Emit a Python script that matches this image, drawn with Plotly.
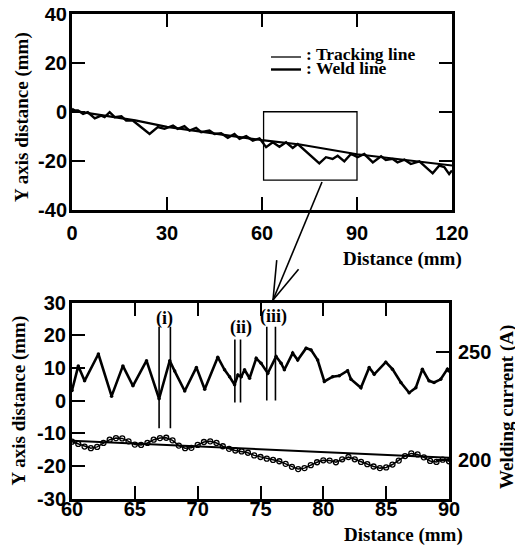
import math
import plotly.graph_objects as go

W, H = 523, 549
PAGE_OFFSET = 8  # default body margin of the html page

# ---------------- data: top plot (0-120 mm) ----------------
top_track_x = [0, 0.9, 1.9, 3.5, 5.0, 7.2, 9.2, 10.3, 11.9, 13.5, 15.6, 17.1, 19.2, 24.5, 27.1,
               29.2, 31.9, 33.4, 35.5, 37.1, 39.2, 40.8, 43.4, 45.0, 47.1, 49.2, 51.3, 52.9,
               55.0, 57.1, 59.2, 61.3, 63.4, 65.5, 67.6, 69.7, 71.3, 78.1, 80.2, 82.3, 83.9,
               86.0, 88.1, 90.2, 92.3, 95.0, 97.6, 99.1, 101.3, 102.8, 105.0, 107.0, 109.7,
               111.8, 113.9, 116.0, 117.6, 119.1, 120]
top_track_y = [1.2, 0.5, 0.5, -0.9, -0.2, -2.7, -1.6, -2.2, -0.2, -2.2, -1.8, -3.6, -3.6, -9.1,
               -6.3, -7.0, -5.7, -7.0, -5.9, -7.7, -6.6, -8.4, -7.7, -9.1, -8.8, -10.7, -9.1,
               -11.1, -10.0, -11.8, -10.9, -14.5, -12.5, -14.3, -12.5, -14.8, -13.2, -21.1,
               -18.6, -19.3, -18.0, -20.3, -17.3, -18.6, -17.3, -20.7, -18.2, -19.7, -19.3,
               -20.7, -19.6, -21.4, -20.3, -22.7, -25.2, -22.0, -22.7, -25.5, -24.0]
top_weld_x = [0, 20, 30, 60, 72, 90, 120]
top_weld_y = [0.5, -3.5, -6.2, -11.6, -13.4, -17.4, -22.0]

# zoom window drawn on the top plot
zoom_x = [60.5, 90]
zoom_y = [-28, 0]

# ---------------- data: bottom plot (60-90 mm) ----------------
bot_weld_x = [60, 86.5, 90]
bot_weld_y = [-12.3, -16.9, -17.5]

bot_track_x = [60.0, 60.5, 61.0, 61.5, 62.0, 62.5, 63.0, 63.5, 64.0, 64.5, 65.0, 65.5, 66.0,
               66.5, 67.0, 67.5, 68.0, 68.5, 69.0, 69.5, 70.0, 70.5, 71.0, 71.5, 72.0, 72.5,
               73.0, 73.5, 74.0, 74.5, 75.0, 75.5, 76.0, 76.5, 77.0, 77.5, 78.0, 78.5, 79.0,
               79.5, 80.0, 80.5, 81.0, 81.5, 82.0, 82.5, 83.0, 83.5, 84.0, 84.5, 85.0, 85.5,
               86.0, 86.5, 87.0, 87.5, 88.0, 88.5, 89.0, 89.5, 90.0]
bot_track_y = [-12.6, -13.3, -14.1, -14.6, -14.2, -13.0, -12.0, -11.5, -11.6, -12.5, -13.5,
               -13.6, -13.0, -12.0, -11.5, -11.4, -12.2, -13.8, -14.6, -14.5, -13.6, -12.7,
               -12.5, -13.0, -14.0, -14.8, -15.3, -15.6, -16.0, -16.8, -17.3, -17.8, -18.2,
               -18.6, -19.4, -20.3, -21.0, -20.7, -19.8, -18.9, -18.3, -18.4, -18.9, -18.0,
               -17.3, -18.0, -18.8, -19.5, -20.2, -20.7, -20.5, -19.6, -18.4, -17.0, -16.2,
               -16.5, -17.4, -18.5, -18.8, -18.1, -18.6]

current_x = [60.0, 60.5, 61.0, 62.1, 63.15, 64.05, 64.85, 65.93, 66.93, 67.78, 68.17, 68.97,
             69.9, 70.56, 71.6, 72.14, 72.54, 72.94, 73.2, 73.47, 73.73, 74.13, 74.66, 75.05,
             75.58, 76.24, 76.64, 76.9, 77.56, 77.96, 78.63, 79.02, 79.55, 80.08, 80.74,
             81.27, 81.93, 82.2, 82.99, 83.65, 84.05, 84.97, 85.5, 86.17, 86.83, 87.36,
             87.88, 88.41, 88.81, 89.34, 89.87, 90.0]
current_a = [232.0, 243.4, 236.5, 248.9, 229.4, 243.4, 234.2, 245.8, 228.2, 245.8, 241.0,
             231.8, 242.7, 232.6, 247.4, 241.6, 238.4, 234.7, 239.2, 238.4, 241.6, 237.7,
             246.9, 244.6, 240.0, 247.7, 244.6, 241.6, 249.3, 246.1, 251.6, 250.8, 246.1,
             236.2, 238.4, 238.8, 241.2, 237.2, 233.3, 242.7, 239.5, 245.1, 241.9, 235.7,
             231.0, 233.3, 241.9, 236.5, 235.7, 237.2, 241.9, 241.0]

# event markers (i), (ii), (iii): pairs of vertical lines
event_labels = ["(i)", "(ii)", "(iii)"]
event_x = [[66.93, 67.83], [72.96, 73.41], [75.5, 76.19]]
event_top = [22.6, 18.7, 22.6]
event_bottom = [-8.5, -0.6, 0.0]
event_label_x = [67.35, 73.45, 76.0]
event_label_y = [25.0, 22.2, 25.6]

top_xticks = [0, 30, 60, 90, 120]
top_yticks = [-40, -20, 0, 20, 40]
bot_xticks = [60, 65, 70, 75, 80, 85, 90]
bot_yticks = [-30, -20, -10, 0, 10, 20, 30]
cur_ticks = [200, 250]


def tick_text(vals):
    return ["<b>%s</b>" % v for v in vals]


SANS = "Liberation Sans, Arial, sans-serif"
SERIF = "Liberation Serif, Times New Roman, serif"
tickfont = dict(family=SANS, size=20, color="black", weight="bold")
titlefont = dict(family=SERIF, size=19, color="black", weight="bold")

fig = go.Figure()

# top plot
fig.add_trace(go.Scatter(x=top_weld_x, y=top_weld_y, mode="lines", name="Weld line",
                         line=dict(color="black", width=2.2), xaxis="x", yaxis="y",
                         showlegend=False))
fig.add_trace(go.Scatter(x=top_track_x, y=top_track_y, mode="lines", name="Tracking line",
                         line=dict(color="black", width=2.4), xaxis="x", yaxis="y",
                         showlegend=False))

# bottom plot
fig.add_trace(go.Scatter(x=bot_weld_x, y=bot_weld_y, mode="lines", name="Weld line",
                         line=dict(color="black", width=2), xaxis="x2", yaxis="y2",
                         showlegend=False))
fig.add_trace(go.Scatter(x=bot_track_x, y=bot_track_y, mode="lines+markers",
                         name="Tracking line", xaxis="x2", yaxis="y2",
                         line=dict(color="black", width=1.5),
                         marker=dict(symbol="circle-open", size=5, color="black",
                                     line=dict(width=1.3)),
                         showlegend=False))
fig.add_trace(go.Scatter(x=current_x, y=current_a, mode="lines+markers",
                         name="Welding current", xaxis="x2", yaxis="y3",
                         line=dict(color="black", width=2.6),
                         marker=dict(size=3.5, color="black"),
                         showlegend=False))

ev_x, ev_y = [], []
for xs, t, b in zip(event_x, event_top, event_bottom):
    for xv in xs:
        ev_x += [xv, xv, None]
        ev_y += [t, b, None]
fig.add_trace(go.Scatter(x=ev_x, y=ev_y, mode="lines", line=dict(color="black", width=1.6),
                         xaxis="x2", yaxis="y2", showlegend=False, hoverinfo="skip"))

annotations = []
for lab, lx, ly in zip(event_labels, event_label_x, event_label_y):
    annotations.append(dict(x=lx, y=ly, xref="x2", yref="y2", text=lab, showarrow=False,
                            xanchor="center", yanchor="middle",
                            font=dict(family=SERIF, size=18, color="black", weight="bold")))


def px(x):
    return (x - PAGE_OFFSET) / W


def py(y):
    return 1 - (y - PAGE_OFFSET) / H


def paper_text(x, y, text, font, angle=0, xanchor="center"):
    return dict(x=px(x), y=py(y), xref="paper", yref="paper", text=text, showarrow=False,
                textangle=angle, xanchor=xanchor, yanchor="middle", font=font)


# axis titles
annotations.append(paper_text(402, 259, "Distance (mm)", titlefont))
annotations.append(paper_text(403, 535, "Distance (mm)", titlefont))
annotations.append(paper_text(22, 117, "Y axis distance (mm)", titlefont, angle=-90))
annotations.append(paper_text(18.5, 401, "Y axis distance (mm)", titlefont, angle=-90))
annotations.append(paper_text(507, 407, "Welding current (A)", titlefont, angle=-90))

# legend (manual, tight)
legfont = dict(family=SERIF, size=17.5, color="black", weight="bold")
annotations.append(paper_text(304, 53.5, ": Tracking line", legfont, xanchor="left"))
annotations.append(paper_text(304, 68, ": Weld line", legfont, xanchor="left"))

shapes = [
    dict(type="line", xref="paper", yref="paper", x0=px(271), x1=px(301), y0=py(57),
         y1=py(57), line=dict(color="black", width=1.3)),
    dict(type="line", xref="paper", yref="paper", x0=px(271), x1=px(301), y0=py(69.5),
         y1=py(69.5), line=dict(color="black", width=2.4)),
    dict(type="rect", xref="x", yref="y", x0=zoom_x[0], x1=zoom_x[1], y0=zoom_y[0],
         y1=zoom_y[1], line=dict(color="black", width=1.3)),
]

# arrow from the zoom window down to the lower plot
ax0, ay0 = 322, 182
ax1, ay1 = 273, 300
shapes.append(dict(type="line", xref="paper", yref="paper", x0=px(ax0), y0=py(ay0),
                   x1=px(ax1), y1=py(ay1), line=dict(color="black", width=1.6)))
ang = math.atan2(ay0 - ay1, ax0 - ax1)
for d in (-0.30, 0.30):
    wx = ax1 + 40 * math.cos(ang + d)
    wy = ay1 + 40 * math.sin(ang + d)
    shapes.append(dict(type="line", xref="paper", yref="paper", x0=px(ax1), y0=py(ay1),
                       x1=px(wx), y1=py(wy), line=dict(color="black", width=1.6)))

axis_common = dict(showline=True, linecolor="black", linewidth=3, ticks="inside",
                   tickcolor="black", tickwidth=2, ticklen=13, showgrid=False,
                   zeroline=False, tickfont=tickfont, automargin=False,
                   ticklabeloverflow="allow")

fig.update_layout(
    width=W, height=H,
    margin=dict(l=0, r=0, t=0, b=0, autoexpand=False),
    paper_bgcolor="white", plot_bgcolor="white",
    showlegend=False,
    xaxis=dict(domain=[px(72), px(452)], range=[0, 120], anchor="y", mirror="ticks",
               tickvals=top_xticks, ticktext=tick_text(top_xticks), ticklabelstandoff=3,
               **axis_common),
    yaxis=dict(domain=[py(209.5), py(14)], range=[-40, 40], anchor="x", mirror="ticks",
               tickvals=top_yticks, ticktext=tick_text(top_yticks), ticklabelstandoff=-2,
               **axis_common),
    xaxis2=dict(domain=[px(72), px(449)], range=[60, 90], anchor="y2", mirror="ticks",
                tickvals=bot_xticks, ticktext=tick_text(bot_xticks), ticklabelstandoff=-10,
                **axis_common),
    yaxis2=dict(domain=[py(498.5), py(302.5)], range=[-30, 30], anchor="x2", mirror=False,
                tickvals=bot_yticks, ticktext=tick_text(bot_yticks), ticklabelstandoff=-1,
                **axis_common),
    yaxis3=dict(overlaying="y2", side="right", anchor="x2", range=[182.1, 272.7],
                tickvals=cur_ticks, ticktext=tick_text(cur_ticks), ticklabelstandoff=2,
                **axis_common),
    annotations=annotations,
    shapes=shapes,
)

fig.write_html("out.html")
